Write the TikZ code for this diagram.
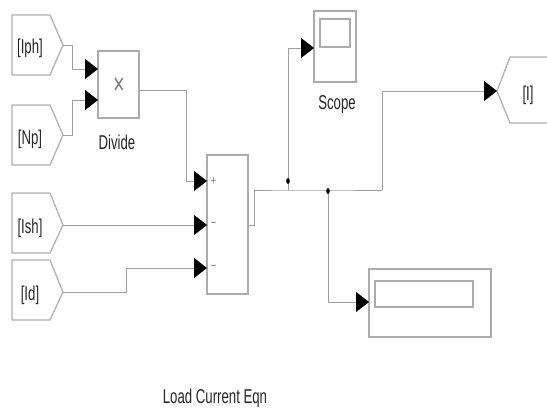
\documentclass[tikz,border=0pt]{standalone}
\usepackage{fontspec}
\setmainfont{Liberation Sans}[FakeStretch=0.66]
\usetikzlibrary{arrows.meta}
\begin{document}
\begin{tikzpicture}[x=1pt,y=-1pt,
  blk/.style={draw=gray!65, line width=1.3pt, fill=white, inner sep=0pt},
  tagline/.style={draw=gray!60, line width=1.3pt},
  wire/.style={draw=gray!75, line width=1pt},
  tip/.style={-{Triangle[length=13pt,width=20pt,black]}},
  lbl/.style={font=\fontsize{20}{22}\selectfont, text=black!85, inner sep=0pt},
  sgn/.style={font=\fontsize{14}{14}\selectfont, text=gray, inner sep=0pt},
  dotm/.style={fill=black}]
\useasboundingbox[fill=white] (0,0) rectangle (547,410);

% Goto/From tags
\draw[tagline] (12,15) -- (50,15) -- (63,45) -- (50,75) -- (12,75) -- cycle;
\coordinate (iphp) at (63,45);
\node[lbl] (iph) at (30,48) {[Iph]};

\draw[tagline] (12,105) -- (50,105) -- (63,135) -- (50,165) -- (12,165) -- cycle;
\coordinate (npp) at (63,135);
\node[lbl] (np) at (30,139) {[Np]};

\draw[tagline] (12,193) -- (50,193) -- (63,225) -- (50,253) -- (12,253) -- cycle;
\coordinate (ishp) at (63,225);
\node[lbl] (ish) at (30,228) {[Ish]};

\draw[tagline] (12,260) -- (50,260) -- (63,292) -- (50,320) -- (12,320) -- cycle;
\coordinate (idp) at (63,292);
\node[lbl] (id) at (30,295) {[Id]};

\draw[tagline] (550,57) -- (510,57) -- (497,91) -- (510,123) -- (550,123);
\coordinate (ip) at (497,91);
\node[lbl] (itag) at (528,95) {[I]};

% Divide block
\node[blk, minimum width=41pt, minimum height=67pt] (div) at (118.5,84.5) {};
\node[font=\fontsize{30}{30}\selectfont, text=gray, inner sep=0pt] (times) at (119,86) {×};
\node[lbl] (divl) at (117,142) {Divide};
\coordinate (div1) at (98,69);
\coordinate (div2) at (98,100);
\coordinate (divo) at (139,90);

% Sum block
\node[blk, minimum width=41pt, minimum height=139pt] (sum) at (227.5,224.5) {};
\coordinate (s1) at (207,181);
\coordinate (s2) at (207,225);
\coordinate (s3) at (207,268);
\coordinate (so) at (248,225);
\node[sgn] (p1) at (213.5,181) {+};
\node[sgn] (p2) at (213.5,225) {−};
\node[sgn] (p3) at (213.5,268) {−};

% Scope
\node[blk, minimum width=42pt, minimum height=71pt] (scope) at (335,46.5) {};
\node[draw=gray!65, line width=1.1pt, minimum width=30pt, minimum height=28pt, inner sep=0pt] (scr) at (335,33) {};
\node[lbl] (scopel) at (337,105) {Scope};
\coordinate (sci) at (314,48);

% Display
\node[blk, minimum width=122pt, minimum height=68pt] (disp) at (430,303) {};
\node[draw=gray!65, line width=1.1pt, minimum width=98pt, minimum height=26pt, inner sep=0pt] (dscr) at (424,294) {};
\coordinate (di) at (369,302);

% Label
\node[lbl] (title) at (215,398) {Load Current Eqn};

% Wires
\draw[wire,tip] (iphp) -- (72,45) |- (div1);
\draw[wire,tip] (npp) -- (72,135) |- (div2);
\draw[wire,tip] (divo) -| (186,181) -- (s1);
\draw[wire,tip] (ishp) -- (s2);
\draw[wire,tip] (idp) -| (126,268) -- (s3);

\coordinate (b1) at (288,190);
\coordinate (b2) at (328,190);
\coordinate (b3) at (382,190);
\draw[wire] (so) -- (254,225) |- (b1) -- (b2) -- (b3);
\draw[wire,tip] (b1) |- (sci);
\draw[wire,tip] (b2) |- (di);
\draw[wire,tip] (b3) |- (ip);
\fill[dotm] (288,181) ellipse (1.8 and 3);
\fill[dotm] (328,191) ellipse (1.8 and 3);
\end{tikzpicture}
\end{document}
